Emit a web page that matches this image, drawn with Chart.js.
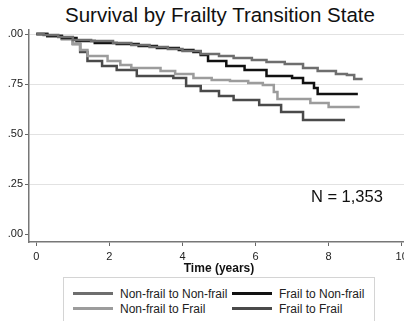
<!DOCTYPE html>
<html lang="en">
<head>
    <meta charset="UTF-8">
    <title>Survival by Frailty Transition State</title>
    <script src="https://cdn.jsdelivr.net/npm/chart.js"></script>
    <style>
        body { margin: 0; background: #fff; font-family: "Liberation Sans", Arial, sans-serif; overflow: hidden; }
        #wrap { position: relative; width: 404px; height: 321px; overflow: hidden; }
        #title { position: absolute; left: 0; top: 3px; width: 440px; text-align: center; font-size: 20.5px; color: #111; }
        #chartBox { position: absolute; left: -10px; top: 0; width: 430px; height: 276px; }
        #legend { position: absolute; left: 63px; top: 277px; width: 312px; height: 50px; border: 1px solid #d4d4d4; box-sizing: border-box; }
        .item { position: absolute; font-size: 12px; line-height: 14px; color: #222; white-space: nowrap; }
        .item span { display: inline-block; width: 40px; height: 3px; vertical-align: middle; margin-right: 7px; position: relative; top: -1px; }
    </style>
</head>
<body>
<div id="wrap">
    <div id="title">Survival by Frailty Transition State</div>
    <div id="chartBox"><canvas id="kmChart"></canvas></div>
    <div id="legend">
        <div class="item" style="left:9px;top:9px"><span style="background:#6e6e6e"></span>Non-frail to Non-frail</div>
        <div class="item" style="left:168px;top:9px"><span style="background:#111"></span>Frail to Non-frail</div>
        <div class="item" style="left:9px;top:24px"><span style="background:#9c9c9c"></span>Non-frail to Frail</div>
        <div class="item" style="left:168px;top:24px"><span style="background:#4a4a4a"></span>Frail to Frail</div>
    </div>
</div>

<script>
    // Kaplan-Meier steps (time in years, survival)
    const nfnfTime = [0, 0.2, 0.6, 1.0, 1.5, 2.1, 2.6, 3.1, 3.6, 4.0, 4.5, 5.0, 5.4, 5.9, 6.3, 6.8, 7.3, 7.7, 8.2, 8.5, 8.7, 8.93];
    const nfnfSurv = [1, .995, .985, .97, .965, .955, .945, .935, .925, .915, .90, .89, .88, .87, .86, .85, .83, .815, .80, .795, .775, .775];

    const fnfTime = [0, 0.3, 0.7, 1.1, 1.6, 2.2, 2.8, 3.3, 3.9, 4.3, 4.5, 4.7, 5.2, 5.7, 6.3, 7.0, 7.3, 7.6, 7.7, 8.8];
    const fnfSurv = [1, .99, .98, .965, .955, .95, .94, .93, .92, .91, .895, .865, .84, .82, .79, .78, .755, .73, .70, .70];

    const nffTime = [0, 0.3, 0.7, 1.0, 1.2, 1.4, 1.95, 2.3, 2.6, 3.4, 3.8, 4.3, 4.8, 5.3, 5.8, 6.2, 6.5, 6.6, 7.5, 8.0, 8.85];
    const nffSurv = [1, .99, .975, .95, .92, .89, .865, .845, .83, .815, .80, .78, .77, .765, .755, .745, .71, .675, .655, .635, .635];

    const ffTime = [0, 0.3, 0.7, 1.0, 1.2, 1.4, 1.8, 2.2, 2.75, 3.75, 4.1, 4.5, 5.0, 5.4, 6.1, 6.7, 7.3, 8.45];
    const ffSurv = [1, .99, .975, .95, .91, .865, .84, .82, .79, .78, .74, .715, .69, .67, .645, .61, .57, .57];

    const yTicks = [0, 0.25, 0.5, 0.75, 1];
    const yTickLabels = ['.00', '.25', '.50', '.75', '.00'];
    const xTicks = [0, 2, 4, 6, 8, 10];
    const sampleSize = 'N = 1,353';

    const pts = (t, s) => t.map((v, i) => ({ x: v, y: s[i] }));

    const line = (label, t, s, color) => ({
        label: label,
        data: pts(t, s),
        borderColor: color,
        borderWidth: 2.5,
        pointRadius: 0,
        stepped: true,
        fill: false
    });

    // N = ... text placed in data coordinates
    const noteText = {
        id: 'noteText',
        afterDatasetsDraw(chart) {
            const c = chart.ctx;
            const x = chart.scales.x.getPixelForValue(8.5);
            const y = chart.scales.y.getPixelForValue(0.185);
            c.save();
            c.font = '16.5px "Liberation Sans", Arial';
            c.fillStyle = '#111';
            c.textAlign = 'center';
            c.textBaseline = 'middle';
            c.fillText(sampleSize, x, y);
            c.restore();
        }
    };

    new Chart(document.getElementById('kmChart'), {
        type: 'line',
        data: {
            datasets: [
                line('Non-frail to Non-frail', nfnfTime, nfnfSurv, '#6e6e6e'),
                line('Frail to Non-frail', fnfTime, fnfSurv, '#111111'),
                line('Non-frail to Frail', nffTime, nffSurv, '#9c9c9c'),
                line('Frail to Frail', ffTime, ffSurv, '#4a4a4a')
            ]
        },
        options: {
            responsive: true,
            maintainAspectRatio: false,
            animation: false,
            layout: { padding: { top: 30, right: 11, left: 0, bottom: 0 } },
            plugins: { legend: { display: false }, tooltip: { enabled: false } },
            scales: {
                x: {
                    type: 'linear',
                    min: -0.2,
                    max: 10.2,
                    afterBuildTicks: s => { s.ticks = xTicks.map(v => ({ value: v })); },
                    afterFit: s => { s.height = 34; },
                    grid: { drawOnChartArea: false, tickLength: 4, tickColor: '#666' },
                    border: { color: '#777', width: 1.5 },
                    ticks: { color: '#222', font: { size: 11, family: 'Liberation Sans' }, padding: 4, maxRotation: 0 },
                    title: { display: true, text: 'Time (years)', color: '#111', font: { size: 12, weight: 'bold', family: 'Liberation Sans' }, padding: 0 }
                },
                y: {
                    min: -0.04,
                    max: 1.02,
                    afterBuildTicks: s => { s.ticks = yTicks.map(v => ({ value: v })); },
                    afterFit: s => { s.width = 39; },
                    grid: {
                        color: ctx => ctx.tick && ctx.tick.value === 0 ? 'rgba(0,0,0,0)' : '#e2e2e2',
                        tickColor: '#666',
                        tickLength: 4,
                        lineWidth: 1
                    },
                    border: { color: '#777', width: 1.5 },
                    ticks: {
                        color: '#222',
                        font: { size: 11, family: 'Liberation Sans' },
                        padding: 2,
                        callback: (v, i) => yTickLabels[i]
                    }
                }
            }
        },
        plugins: [noteText]
    });
</script>
</body>
</html>
